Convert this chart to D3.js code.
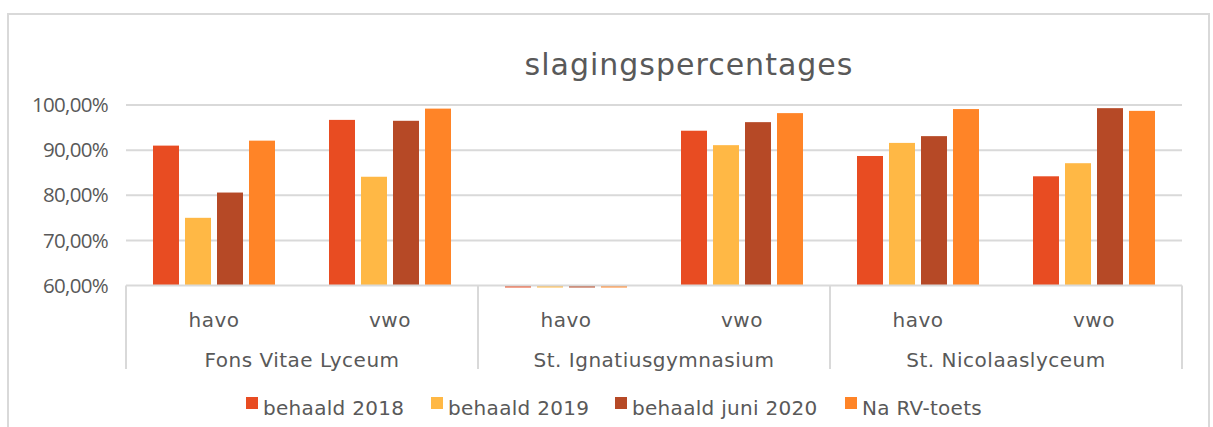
<!DOCTYPE html>
<html>
<head>
<meta charset="utf-8">
<script src="https://cdn.jsdelivr.net/npm/d3@7"></script>
<style>
  html, body { margin: 0; padding: 0; background: #fff; }
  svg { display: block; font-family: "DejaVu Sans", sans-serif; }
</style>
</head>
<body>
<svg id="chart" width="1213" height="427"></svg>
<script>
const schools = ["Fons Vitae Lyceum", "St. Ignatiusgymnasium", "St. Nicolaaslyceum"];
const levels = ["havo", "vwo"];
const seriesNames = ["behaald 2018", "behaald 2019", "behaald juni 2020", "Na RV-toets"];
const seriesColors = ["#E84C22", "#FFB845", "#B64926", "#FF8427"];
// values per category (school/level), in series order; 0 = no data (below axis)
const fonsHavo = [91.0, 75.0, 80.6, 92.1];
const fonsVwo = [96.7, 84.1, 96.5, 99.2];
const ignHavo = [0, 0, 0, 0];
const ignVwo = [94.3, 91.1, 96.2, 98.2];
const nicHavo = [88.7, 91.6, 93.1, 99.1];
const nicVwo = [84.2, 87.1, 99.3, 98.7];
const yTicks = [60, 70, 80, 90, 100];
const title = "slagingspercentages";

const values = [fonsHavo, fonsVwo, ignHavo, ignVwo, nicHavo, nicVwo];
const cats = [];
schools.forEach((s, i) => levels.forEach((l, j) => cats.push({ school: s, level: l, key: s + "|" + l, vals: values[i * 2 + j] })));

const svg = d3.select("#chart");
const textColor = "#595959";
const gridColor = "#D9D9D9";

// outer chart border
svg.append("rect").attr("x", 8).attr("y", 14).attr("width", 1201).attr("height", 440)
  .attr("fill", "none").attr("stroke", gridColor).attr("stroke-width", 2);

const pLeft = 126, pRight = 1182, pTop = 105, pBottom = 285.5;
const x0 = d3.scaleBand().domain(cats.map(d => d.key)).range([pLeft, pRight]).padding(0);
const x1 = d3.scaleBand().domain(d3.range(4)).range([0, x0.bandwidth()]).paddingInner(0.1875).paddingOuter(0.84375);
const y = d3.scaleLinear().domain([60, 100]).range([pBottom, pTop]);

// title
svg.append("text").attr("x", 689).attr("y", 75).attr("text-anchor", "middle")
  .attr("fill", textColor).style("font-size", "30px").style("letter-spacing", "1px").text(title);

// gridlines
svg.append("g").selectAll("line").data(yTicks.filter(t => t > 60)).join("line")
  .attr("x1", pLeft).attr("x2", pRight).attr("y1", d => y(d)).attr("y2", d => y(d))
  .attr("stroke", gridColor).attr("stroke-width", 2);

// y axis labels
const fmt = v => v.toFixed(2).replace(".", ",") + "%";
svg.append("g").selectAll("text").data(yTicks).join("text")
  .attr("x", 108).attr("y", d => y(d)).attr("dy", "0.35em").attr("text-anchor", "end")
  .attr("fill", textColor).style("font-family", "'Open Sans', sans-serif").style("font-size", "20.5px")
  .style("letter-spacing", "-0.7px").text(d => fmt(d));

// bars
const g = svg.append("g");
cats.forEach(c => {
  const gx = x0(c.key);
  c.vals.forEach((v, i) => {
    const bx = gx + x1(i);
    if (v >= 60) {
      g.append("rect").attr("x", bx).attr("y", y(v)).attr("width", x1.bandwidth())
        .attr("height", y(60) - y(v)).attr("fill", seriesColors[i]);
    } else {
      g.append("rect").attr("x", bx).attr("y", y(60)).attr("width", x1.bandwidth())
        .attr("height", 2).attr("fill", seriesColors[i]);
    }
  });
});

// category axis frame
const ax = svg.append("g");
ax.append("line").attr("x1", pLeft).attr("x2", pRight).attr("y1", pBottom).attr("y2", pBottom)
  .attr("stroke", gridColor).attr("stroke-width", 2);
const sepX = [pLeft].concat(schools.map((s, i) => x0(s + "|vwo") + x0.bandwidth()));
ax.selectAll("line.sep").data(sepX).join("line").attr("class", "sep")
  .attr("x1", d => d).attr("x2", d => d).attr("y1", pBottom).attr("y2", 369)
  .attr("stroke", gridColor).attr("stroke-width", 2);

ax.selectAll("text.lvl").data(cats).join("text").attr("class", "lvl")
  .attr("x", d => x0(d.key) + x0.bandwidth() / 2).attr("y", 327)
  .attr("text-anchor", "middle").attr("fill", textColor).style("font-size", "20px")
  .style("letter-spacing", "0.5px").text(d => d.level);
ax.selectAll("text.sch").data(schools).join("text").attr("class", "sch")
  .attr("x", d => x0(d + "|havo") + x0.bandwidth()).attr("y", 367)
  .attr("text-anchor", "middle").attr("fill", textColor).style("font-size", "20px")
  .style("letter-spacing", "0.5px").text(d => d);

// legend
const legX = [246, 431, 615, 845];
const leg = svg.append("g");
seriesNames.forEach((n, i) => {
  leg.append("rect").attr("x", legX[i]).attr("y", 397).attr("width", 12).attr("height", 12).attr("fill", seriesColors[i]);
  leg.append("text").attr("x", legX[i] + 17).attr("y", 415).attr("fill", textColor)
    .style("font-size", "20px").style("letter-spacing", "0.3px").text(n);
});
</script>
</body>
</html>
